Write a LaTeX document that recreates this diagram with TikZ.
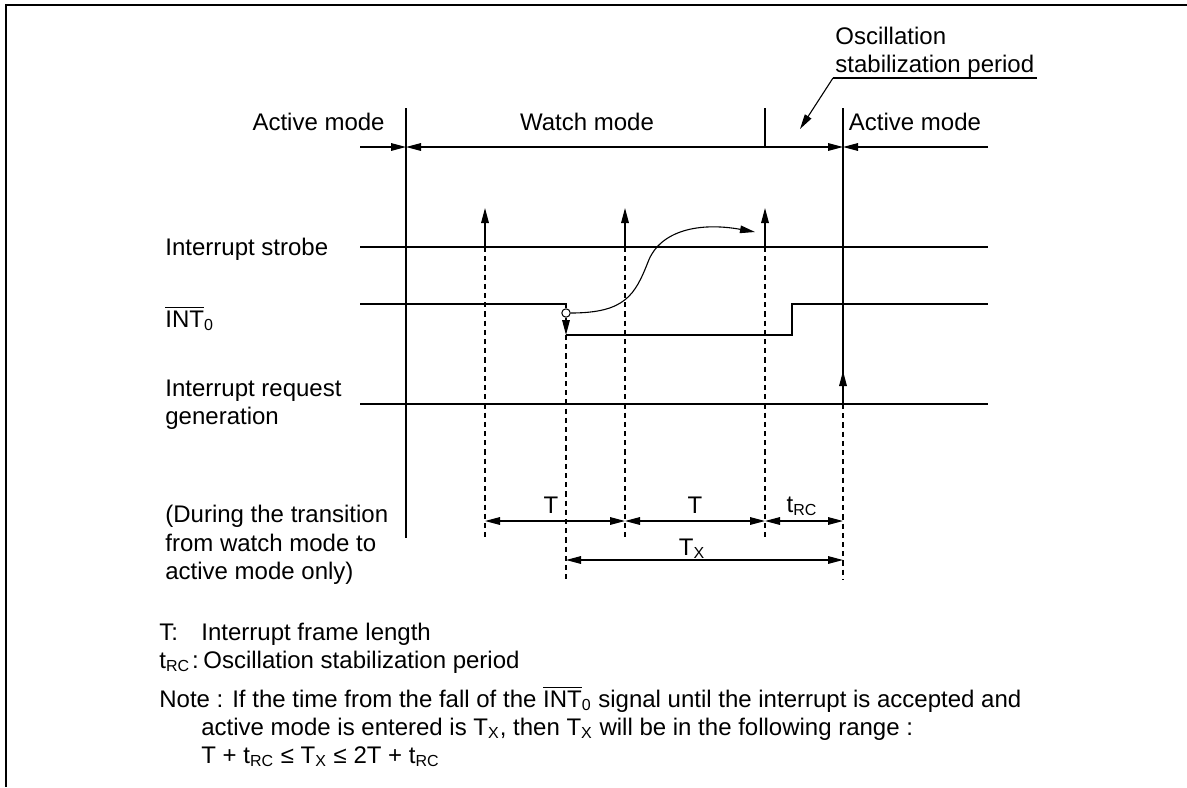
\documentclass[tikz,border=0pt]{standalone}
\usepackage{fontspec}
\setmainfont{Liberation Sans}
\usetikzlibrary{arrows.meta}
\newcommand{\ovINT}{$\overline{\mbox{INT}}$\textsubscript{0}}
\tikzset{
  txt/.style={inner sep=0pt, font=\fontsize{12}{14.25}\selectfont},
  lt/.style={txt, anchor=base west},
  ct/.style={txt, anchor=base},
  frame/.style={line width=0.9pt},
  sig/.style={line width=0.65pt},
  thinline/.style={line width=0.55pt},
  guide/.style={line width=0.6pt, dash pattern=on 2.6pt off 2pt},
  >={Triangle[length=7.5pt,width=3.8pt]}
}
\begin{document}
\begin{tikzpicture}[x=0.5pt,y=-0.5pt]
\useasboundingbox (0,0) rectangle (1187,787);
% frame
\coordinate (fTR) at (1187,5);
\coordinate (fTL) at (6,5);
\coordinate (fBL) at (6,787);
\draw[frame] (fTR) -- (fTL) -- (fBL);

% key coordinates
\coordinate (mL) at (360,147);
\coordinate (m1) at (406,147);
\coordinate (m2) at (765,147);
\coordinate (m3) at (843,147);
\coordinate (mR) at (988,147);
\coordinate (v1top) at (406,108);
\coordinate (v1bot) at (406,538);
\coordinate (v2top) at (765,108);
\coordinate (v3top) at (843,108);

% mode labels
\node[txt, anchor=base east] (am1) at (385,130) {Active mode};
\node[ct] (wm) at (587,130) {Watch mode};
\node[ct] (am2) at (915,130) {Active mode};
\node[lt] (osc1) at (835,44) {Oscillation};
\node[lt] (osc2) at (835,72) {stabilization period};
\coordinate (uL) at (833,78);
\coordinate (uR) at (1037,78);
\coordinate (oscTip) at (800,129);
\draw[thinline] (uR) -- (uL);
\draw[thinline,->] (uL) -- (oscTip);

% mode lines
\draw[sig] (v1top) -- (v1bot);
\draw[sig] (v2top) -- (m2);
\draw[sig,->] (mL) -- (m1);
\draw[sig,<->] (m1) -- (m3);
\draw[sig,->] (mR) -- (m3);

% signal labels
\node[lt] (lStrobe) at (165,255) {Interrupt strobe};
\node[lt] (lInt) at (165,327) {\ovINT};
\node[lt] (lReq1) at (165,396) {Interrupt request};
\node[lt] (lReq2) at (165,424) {generation};
\node[lt] (lDur1) at (165,522) {(During the transition};
\node[lt] (lDur2) at (165,551) {from watch mode to};
\node[lt] (lDur3) at (165,579) {active mode only)};

% interrupt strobe
\coordinate (sL) at (360,247);
\coordinate (sR) at (988,247);
\draw[sig] (sL) -- (sR);
\foreach \x/\n in {485/a,625/b,765/c}{
  \coordinate (s\n) at (\x,247);
  \coordinate (s\n top) at (\x,208);
  \coordinate (s\n bot) at (\x,540);
  \draw[sig,->] (s\n) -- (s\n top);
  \draw[guide] (s\n) -- (s\n bot);
}

% INT0
\coordinate (iL) at (360,304);
\coordinate (iF) at (566,304);
\coordinate (iLow) at (566,335);
\coordinate (iRiseL) at (792,335);
\coordinate (iRiseH) at (792,304);
\coordinate (iR) at (988,304);
\node[circle, draw, fill=white, line width=0.5pt, inner sep=0pt, minimum size=4.2pt] (circ) at (566,313) {};
\draw[sig] (iL) -- (iF) -- (circ.north);
\draw[sig,->] (circ.south) -- (iLow);
\draw[sig] (iLow) -- (iRiseL) -- (iRiseH) -- (iR);
\coordinate (iGuide) at (566,580);
\draw[guide] (iLow) -- (iGuide);
\coordinate (cMid) at (648,262);
\coordinate (cEnd) at (755,232);
\draw[thinline,->] (circ.east) .. controls (625,313) and (635,295) .. (cMid)
   .. controls (660,230) and (700,222) .. (cEnd);

% interrupt request
\coordinate (rL) at (360,404);
\coordinate (rR) at (988,404);
\coordinate (r3) at (843,404);
\coordinate (r3tip) at (843,371);
\coordinate (r3bot) at (843,580);
\draw[sig] (rL) -- (rR);
\draw[sig] (v3top) -- (r3);
\draw[sig,->] (r3) -- (r3tip);
\draw[guide] (r3) -- (r3bot);

% dimensions
\coordinate (d1) at (485,521);
\coordinate (d2) at (625,521);
\coordinate (d3) at (765,521);
\coordinate (d4) at (843,521);
\coordinate (e1) at (566,560);
\coordinate (e2) at (843,560);
\draw[sig,<->] (d1) -- (d2);
\draw[sig,<->] (d2) -- (d3);
\draw[sig,<->] (d3) -- (d4);
\draw[sig,<->] (e1) -- (e2);
\node[ct] (lT1) at (551,513) {T};
\node[ct] (lT2) at (695,513) {T};
\node[ct] (ltrc) at (802,512) {t\textsubscript{RC}};
\node[ct] (lTX) at (692,555) {T\textsubscript{X}};

% legend
\node[lt] (g1a) at (159,640) {T:};
\node[lt] (g1b) at (201,640) {Interrupt frame length};
\node[lt] (g2a) at (159,668) {t\textsubscript{RC}\hspace{1pt}:};
\node[lt] (g2b) at (203,668) {Oscillation stabilization period};
\node[lt] (n1) at (159,707) {Note : If the time from the fall of the \ovINT{} signal until the interrupt is accepted and};
\node[lt] (n2) at (201,735) {active mode is entered is T\textsubscript{X}, then T\textsubscript{X} will be in the following range :};
\node[lt] (n3) at (201,763) {T + t\textsubscript{RC} ≤ T\textsubscript{X} ≤ 2T + t\textsubscript{RC}};
\end{tikzpicture}
\end{document}
